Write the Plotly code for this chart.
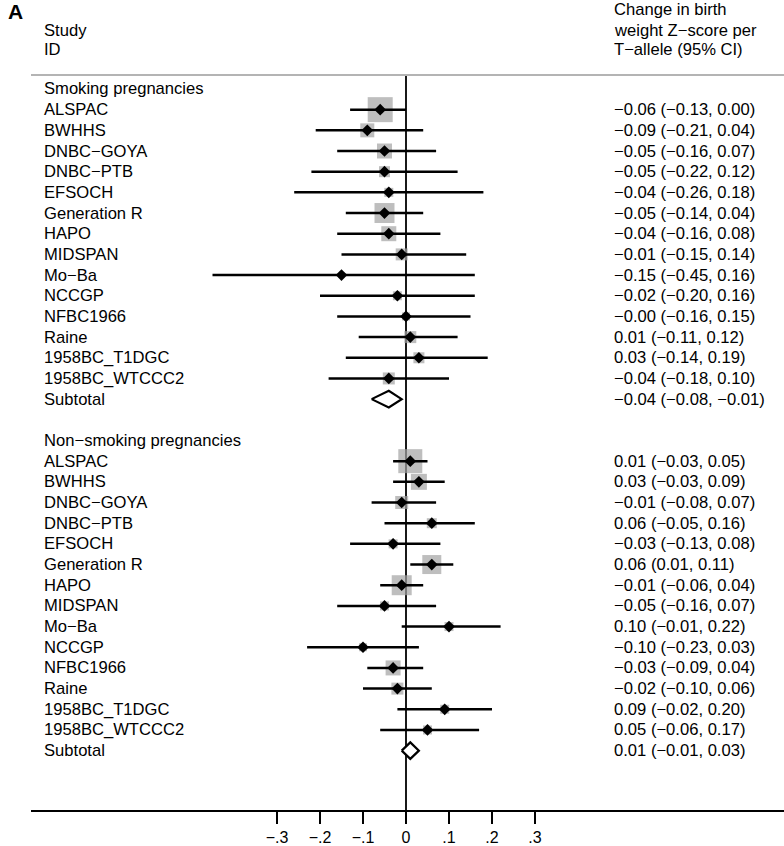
import plotly.graph_objects as go

FONT = "Liberation Sans, Arial, sans-serif"

studies = ["ALSPAC", "BWHHS", "DNBC\u2212GOYA", "DNBC\u2212PTB", "EFSOCH", "Generation R",
           "HAPO", "MIDSPAN", "Mo\u2212Ba", "NCCGP", "NFBC1966", "Raine",
           "1958BC_T1DGC", "1958BC_WTCCC2"]

smk_est = [-0.06, -0.09, -0.05, -0.05, -0.04, -0.05, -0.04, -0.01, -0.15, -0.02, -0.00, 0.01, 0.03, -0.04]
smk_lo = [-0.13, -0.21, -0.16, -0.22, -0.26, -0.14, -0.16, -0.15, -0.45, -0.20, -0.16, -0.11, -0.14, -0.18]
smk_hi = [0.00, 0.04, 0.07, 0.12, 0.18, 0.04, 0.08, 0.14, 0.16, 0.16, 0.15, 0.12, 0.19, 0.10]
smk_w = [25, 14, 15, 11, 9, 20, 15, 12, 5, 9, 8, 12, 11, 12]
smk_sub = (-0.04, -0.08, -0.01)

non_est = [0.01, 0.03, -0.01, 0.06, -0.03, 0.06, -0.01, -0.05, 0.10, -0.10, -0.03, -0.02, 0.09, 0.05]
non_lo = [-0.03, -0.03, -0.08, -0.05, -0.13, 0.01, -0.06, -0.16, -0.01, -0.23, -0.09, -0.10, -0.02, -0.06]
non_hi = [0.05, 0.09, 0.07, 0.16, 0.08, 0.11, 0.04, 0.07, 0.22, 0.03, 0.04, 0.06, 0.20, 0.17]
non_w = [24, 16, 13, 10, 9, 19, 20, 9, 9, 8, 15, 12, 9, 9]
non_sub = (0.01, -0.01, 0.03)

groups = ["Smoking pregnancies", "Non\u2212smoking pregnancies"]
tick_vals = [-0.3, -0.2, -0.1, 0, 0.1, 0.2, 0.3]
tick_text = ["\u2212.3", "\u2212.2", "\u2212.1", "0", ".1", ".2", ".3"]

def fmt(v):
    s = f"{abs(v):.2f}"
    return ("\u2212" + s) if v < 0 or (v == 0 and str(v).startswith("-")) else s

def ci_text(e, l, h):
    return f"{fmt(e)} ({fmt(l)}, {fmt(h)})"

# row layout
n = len(studies)
smk_rows = list(range(1, n + 1))
smk_sub_row = n + 1
non_head_row = n + 3
non_rows = list(range(non_head_row + 1, non_head_row + 1 + n))
non_sub_row = non_head_row + n + 1
axis_row = non_sub_row + 3

W, H = 784, 846

def px(p):
    return p / W

fig = go.Figure()

def add_group(est, lo, hi, w, rows, sub, sub_row):
    fig.add_trace(go.Scatter(x=est, y=rows, mode="markers",
                             marker=dict(symbol="square", size=w, color="#a3a3a3", line=dict(width=0)),
                             hoverinfo="skip", showlegend=False))
    fig.add_trace(go.Scatter(x=est, y=rows, mode="markers",
                             marker=dict(symbol="diamond", size=9, color="black"),
                             error_x=dict(type="data", symmetric=False,
                                          array=[h - e for h, e in zip(hi, est)],
                                          arrayminus=[e - l for e, l in zip(est, lo)],
                                          color="black", thickness=2.5, width=0),
                             showlegend=False))
    e, l, h = sub
    hh = 0.4
    fig.add_trace(go.Scatter(x=[l, e, h, e, l], y=[sub_row, sub_row - hh, sub_row, sub_row + hh, sub_row],
                             mode="lines", line=dict(color="black", width=2.2),
                             fill="toself", fillcolor="white", showlegend=False))

# vertical null line
fig.add_shape(type="line", x0=0, x1=0, y0=-0.67, y1=axis_row, xref="x", yref="y",
              line=dict(color="black", width=1.8), layer="below")

add_group(smk_est, smk_lo, smk_hi, smk_w, smk_rows, smk_sub, smk_sub_row)
add_group(non_est, non_lo, non_hi, non_w, non_rows, non_sub, non_sub_row)

# header gray line
fig.add_shape(type="line", x0=px(31), x1=1, y0=-0.67, y1=-0.67, xref="paper", yref="y",
              line=dict(color="#b4b4b4", width=2))

ann = []
LX = px(42)
RX = px(612)
FS = 16.6

def txt(x, y, s, size=FS, bold=False):
    ann.append(dict(x=x, y=y, xref="paper", yref="y", text=("<b>%s</b>" % s) if bold else s,
                    showarrow=False, xanchor="left", yanchor="middle",
                    font=dict(family=FONT, size=size, color="black")))

txt(LX, 0, groups[0])
for r, s, e, l, h in zip(smk_rows, studies, smk_est, smk_lo, smk_hi):
    txt(LX, r, s)
    txt(RX, r, ci_text(e, l, h))
txt(LX, smk_sub_row, "Subtotal")
txt(RX, smk_sub_row, ci_text(*smk_sub))

txt(LX, non_head_row, groups[1])
for r, s, e, l, h in zip(non_rows, studies, non_est, non_lo, non_hi):
    txt(LX, r, s)
    txt(RX, r, ci_text(e, l, h))
txt(LX, non_sub_row, "Subtotal")
txt(RX, non_sub_row, ci_text(*non_sub))

# headers
txt(LX, -2.84, "Study")
txt(LX, -1.92, "ID")
txt(RX, -3.82, "Change in birth")
txt(RX, -2.84, "weight Z\u2212score per")
txt(RX, -1.92, "T\u2212allele (95% CI)")
txt(px(6), -3.75, "A", size=21, bold=True)

px_per_unit = 430.0
zero_px = 406.0
x_left = (31 - zero_px) / px_per_unit
x_right = (W - zero_px) / px_per_unit

row0_px = 89.5
row_h = 20.8
y_top = -row0_px / row_h
y_bot = (H - row0_px) / row_h

fig.update_layout(
    width=W, height=H,
    margin=dict(l=0, r=0, t=0, b=0),
    paper_bgcolor="white", plot_bgcolor="white",
    annotations=ann,
    xaxis=dict(domain=[px(31), 1], range=[x_left, x_right], showgrid=False, zeroline=False,
               tickvals=tick_vals, ticktext=tick_text, ticks="outside", ticklen=12, tickwidth=1.8,
               tickcolor="black", showline=True, linecolor="black", linewidth=2,
               anchor="free", position=(H - 816) / H,
               tickfont=dict(family=FONT, size=16, color="black")),
    yaxis=dict(domain=[0, 1], range=[y_bot, y_top], visible=False, showgrid=False, zeroline=False),
)

fig.write_html("out.html", config={"displayModeBar": False},
               post_script="document.body.style.margin='0';document.body.style.padding='0';"
                           "document.documentElement.style.overflow='hidden';")
